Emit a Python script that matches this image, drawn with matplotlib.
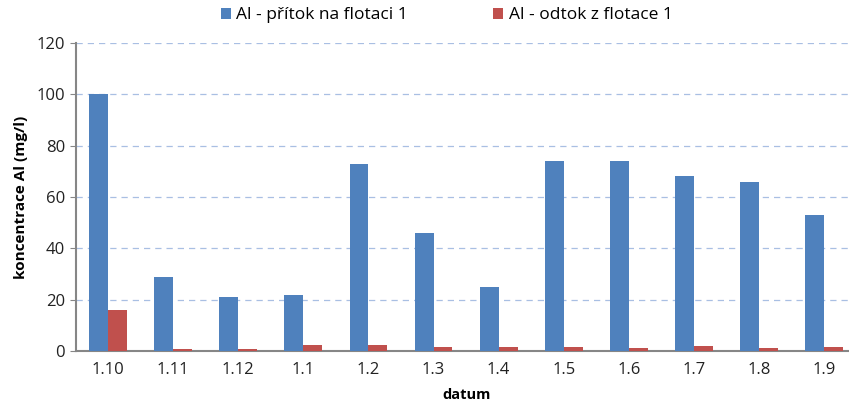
import matplotlib
matplotlib.use("Agg")
import matplotlib.pyplot as plt
import numpy as np

plt.rcParams['font.family'] = ['Open Sans', 'DejaVu Sans']

datum = ['1.10', '1.11', '1.12', '1.1', '1.2', '1.3', '1.4', '1.5', '1.6', '1.7', '1.8', '1.9']
pritok = [100, 29, 21, 22, 73, 46, 25, 74, 74, 68, 66, 53]
odtok = [16, 0.9, 0.9, 2.4, 2.2, 1.6, 1.4, 1.4, 1.3, 1.8, 1.3, 1.5]

fig = plt.figure(figsize=(8.49, 4.07), dpi=100)
ax = fig.add_axes([0.089, 0.1376, 0.92, 0.757])

x = np.arange(len(datum))
w = 0.29
ax.bar(x - w / 2, pritok, w, color='#4F81BD', label='Al - přítok na flotaci 1', zorder=3)
ax.bar(x + w / 2, odtok, w, color='#C0504D', label='Al - odtok z flotace 1', zorder=3)

ax.set_xlim(-0.5, len(datum) - 0.5)
ax.set_ylim(0, 120)
ax.set_yticks(range(0, 121, 20))
ax.set_xticks(x)
ax.set_xticklabels(datum)
ax.yaxis.grid(True, linestyle=(0, (5, 4)), color='#a9bfe3', linewidth=0.9, zorder=0)

for s in ['top', 'right']:
    ax.spines[s].set_visible(False)
for s in ['left', 'bottom']:
    ax.spines[s].set_color('#868686')
    ax.spines[s].set_linewidth(1.5)
ax.tick_params(axis='x', length=0, pad=8, labelsize=12, colors='#222222')
ax.tick_params(axis='y', length=4, color='#868686', labelsize=12, labelcolor='#222222')

ax.set_ylabel('koncentrace Al (mg/l)', fontsize=11, fontweight='bold', labelpad=6)
ax.set_xlabel('datum', fontsize=10.5, fontweight='bold', labelpad=7)

fig.legend(loc='upper center', bbox_to_anchor=(0.526, 1.02), ncol=2, frameon=False,
           fontsize=12.5, handlelength=0.6, handleheight=0.6, handletextpad=0.3,
           columnspacing=4.9)

fig.savefig('out.png', dpi=100)
